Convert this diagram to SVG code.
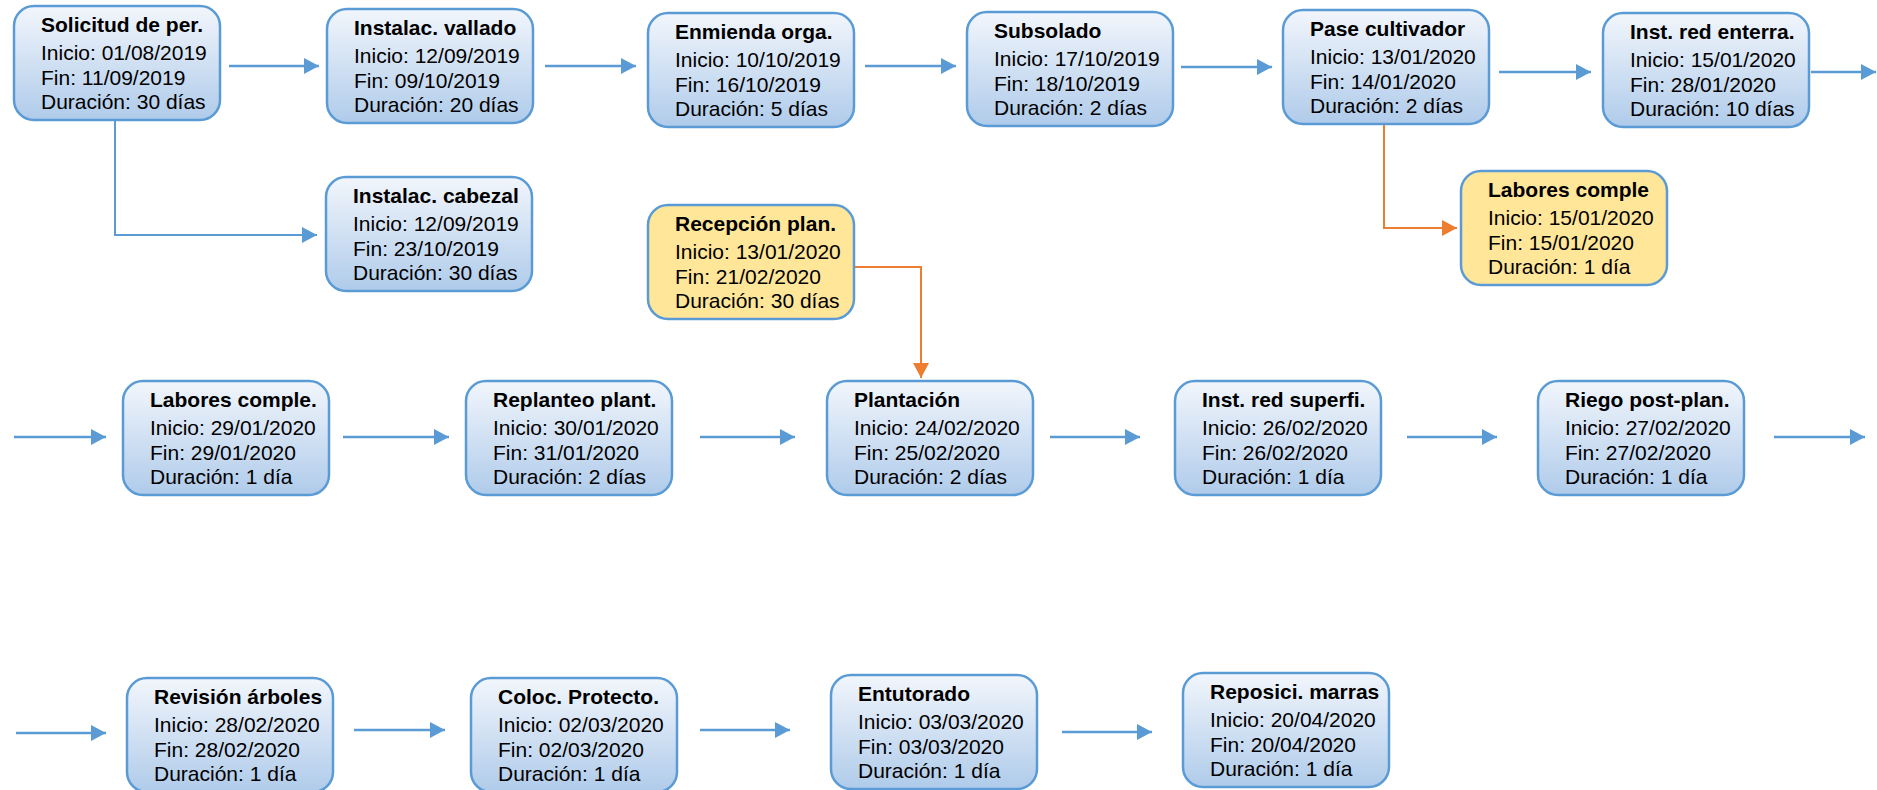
<svg xmlns="http://www.w3.org/2000/svg" width="1877" height="790" viewBox="0 0 1877 790">
<defs>
<linearGradient id="gb" x1="0" y1="0" x2="0" y2="1">
<stop offset="0" stop-color="#F2F6FC"/>
<stop offset="1" stop-color="#AFCBEA"/>
</linearGradient>
<marker id="ab" markerUnits="userSpaceOnUse" markerWidth="15" markerHeight="16" refX="15" refY="8" orient="auto">
<path d="M0,0 L15,8 L0,16 z" fill="#5B9BD5"/>
</marker>
<marker id="ao" markerUnits="userSpaceOnUse" markerWidth="15" markerHeight="16" refX="15" refY="8" orient="auto">
<path d="M0,0 L15,8 L0,16 z" fill="#ED7D31"/>
</marker>
<style>
.n rect{fill:url(#gb);stroke:#5B9BD5;stroke-width:2.5}
.y rect{fill:#FFE699;stroke:#5B9BD5;stroke-width:2.5}
text{font-family:"Liberation Sans",Arial,sans-serif;font-size:21px;fill:#000}
.t{font-weight:bold}
.cb{fill:none;stroke:#5B9BD5;stroke-width:2.5;marker-end:url(#ab)}
.ce{fill:none;stroke:#5B9BD5;stroke-width:2;marker-end:url(#ab)}
.co{fill:none;stroke:#ED7D31;stroke-width:2;marker-end:url(#ao)}
</style>
</defs>
<rect width="1877" height="790" fill="#FFFFFF"/>

<g id="connectors">
<path class="cb" d="M229,66 H319"/>
<path class="ce" d="M115,120 V235 H317"/>
<path class="cb" d="M545,66 H636"/>
<path class="cb" d="M865,66 H956"/>
<path class="cb" d="M1181,67 H1272"/>
<path class="cb" d="M1499,72 H1591"/>
<path class="cb" d="M1811,72 H1876"/>
<path class="co" d="M1384,124 V228 H1457"/>
<path class="co" d="M854,267 H921 V378"/>
<path class="cb" d="M14,437 H106"/>
<path class="cb" d="M343,437 H449"/>
<path class="cb" d="M700,437 H795"/>
<path class="cb" d="M1050,437 H1140"/>
<path class="cb" d="M1407,437 H1497"/>
<path class="cb" d="M1774,437 H1865"/>
<path class="cb" d="M16,733 H106"/>
<path class="cb" d="M354,730 H445"/>
<path class="cb" d="M700,730 H790"/>
<path class="cb" d="M1062,732 H1152"/>
</g>

<g id="n1" class="n" transform="translate(14,6)">
<rect width="206" height="114" rx="20"/>
<text class="t" x="27" y="26">Solicitud de per.</text>
<text x="27" y="54">Inicio: 01/08/2019</text>
<text x="27" y="79">Fin: 11/09/2019</text>
<text x="27" y="103">Duración: 30 días</text>
</g>
<g id="n2" class="n" transform="translate(327,9)">
<rect width="206" height="114" rx="20"/>
<text class="t" x="27" y="26">Instalac. vallado</text>
<text x="27" y="54">Inicio: 12/09/2019</text>
<text x="27" y="79">Fin: 09/10/2019</text>
<text x="27" y="103">Duración: 20 días</text>
</g>
<g id="n3" class="n" transform="translate(648,13)">
<rect width="206" height="114" rx="20"/>
<text class="t" x="27" y="26">Enmienda orga.</text>
<text x="27" y="54">Inicio: 10/10/2019</text>
<text x="27" y="79">Fin: 16/10/2019</text>
<text x="27" y="103">Duración: 5 días</text>
</g>
<g id="n4" class="n" transform="translate(967,12)">
<rect width="206" height="114" rx="20"/>
<text class="t" x="27" y="26">Subsolado</text>
<text x="27" y="54">Inicio: 17/10/2019</text>
<text x="27" y="79">Fin: 18/10/2019</text>
<text x="27" y="103">Duración: 2 días</text>
</g>
<g id="n5" class="n" transform="translate(1283,10)">
<rect width="206" height="114" rx="20"/>
<text class="t" x="27" y="26">Pase cultivador</text>
<text x="27" y="54">Inicio: 13/01/2020</text>
<text x="27" y="79">Fin: 14/01/2020</text>
<text x="27" y="103">Duración: 2 días</text>
</g>
<g id="n6" class="n" transform="translate(1603,13)">
<rect width="206" height="114" rx="20"/>
<text class="t" x="27" y="26">Inst. red enterra.</text>
<text x="27" y="54">Inicio: 15/01/2020</text>
<text x="27" y="79">Fin: 28/01/2020</text>
<text x="27" y="103">Duración: 10 días</text>
</g>
<g id="n7" class="n" transform="translate(326,177)">
<rect width="206" height="114" rx="20"/>
<text class="t" x="27" y="26">Instalac. cabezal</text>
<text x="27" y="54">Inicio: 12/09/2019</text>
<text x="27" y="79">Fin: 23/10/2019</text>
<text x="27" y="103">Duración: 30 días</text>
</g>
<g id="n8" class="y" transform="translate(648,205)">
<rect width="206" height="114" rx="20"/>
<text class="t" x="27" y="26">Recepción plan.</text>
<text x="27" y="54">Inicio: 13/01/2020</text>
<text x="27" y="79">Fin: 21/02/2020</text>
<text x="27" y="103">Duración: 30 días</text>
</g>
<g id="n9" class="y" transform="translate(1461,171)">
<rect width="206" height="114" rx="20"/>
<text class="t" x="27" y="26">Labores comple</text>
<text x="27" y="54">Inicio: 15/01/2020</text>
<text x="27" y="79">Fin: 15/01/2020</text>
<text x="27" y="103">Duración: 1 día</text>
</g>

<g id="n10" class="n" transform="translate(123,381)">
<rect width="206" height="114" rx="20"/>
<text class="t" x="27" y="26">Labores comple.</text>
<text x="27" y="54">Inicio: 29/01/2020</text>
<text x="27" y="79">Fin: 29/01/2020</text>
<text x="27" y="103">Duración: 1 día</text>
</g>
<g id="n11" class="n" transform="translate(466,381)">
<rect width="206" height="114" rx="20"/>
<text class="t" x="27" y="26">Replanteo plant.</text>
<text x="27" y="54">Inicio: 30/01/2020</text>
<text x="27" y="79">Fin: 31/01/2020</text>
<text x="27" y="103">Duración: 2 días</text>
</g>
<g id="n12" class="n" transform="translate(827,381)">
<rect width="206" height="114" rx="20"/>
<text class="t" x="27" y="26">Plantación</text>
<text x="27" y="54">Inicio: 24/02/2020</text>
<text x="27" y="79">Fin: 25/02/2020</text>
<text x="27" y="103">Duración: 2 días</text>
</g>
<g id="n13" class="n" transform="translate(1175,381)">
<rect width="206" height="114" rx="20"/>
<text class="t" x="27" y="26">Inst. red superfi.</text>
<text x="27" y="54">Inicio: 26/02/2020</text>
<text x="27" y="79">Fin: 26/02/2020</text>
<text x="27" y="103">Duración: 1 día</text>
</g>
<g id="n14" class="n" transform="translate(1538,381)">
<rect width="206" height="114" rx="20"/>
<text class="t" x="27" y="26">Riego post-plan.</text>
<text x="27" y="54">Inicio: 27/02/2020</text>
<text x="27" y="79">Fin: 27/02/2020</text>
<text x="27" y="103">Duración: 1 día</text>
</g>

<g id="n15" class="n" transform="translate(127,678)">
<rect width="206" height="114" rx="20"/>
<text class="t" x="27" y="26">Revisión árboles</text>
<text x="27" y="54">Inicio: 28/02/2020</text>
<text x="27" y="79">Fin: 28/02/2020</text>
<text x="27" y="103">Duración: 1 día</text>
</g>
<g id="n16" class="n" transform="translate(471,678)">
<rect width="206" height="114" rx="20"/>
<text class="t" x="27" y="26">Coloc. Protecto.</text>
<text x="27" y="54">Inicio: 02/03/2020</text>
<text x="27" y="79">Fin: 02/03/2020</text>
<text x="27" y="103">Duración: 1 día</text>
</g>
<g id="n17" class="n" transform="translate(831,675)">
<rect width="206" height="114" rx="20"/>
<text class="t" x="27" y="26">Entutorado</text>
<text x="27" y="54">Inicio: 03/03/2020</text>
<text x="27" y="79">Fin: 03/03/2020</text>
<text x="27" y="103">Duración: 1 día</text>
</g>
<g id="n18" class="n" transform="translate(1183,673)">
<rect width="206" height="114" rx="20"/>
<text class="t" x="27" y="26">Reposici. marras</text>
<text x="27" y="54">Inicio: 20/04/2020</text>
<text x="27" y="79">Fin: 20/04/2020</text>
<text x="27" y="103">Duración: 1 día</text>
</g>
</svg>
